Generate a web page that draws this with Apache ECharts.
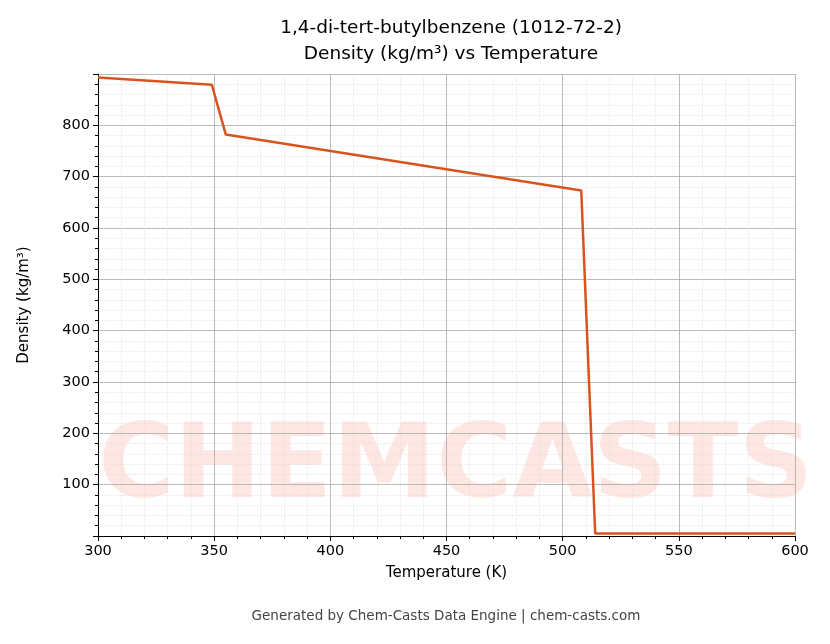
<!DOCTYPE html>
<html><head><meta charset="utf-8">
<script src="https://cdn.jsdelivr.net/npm/echarts@6/dist/echarts.min.js"></script>
<style>html,body{margin:0;padding:0;background:#fff}#c{width:830px;height:644px}</style>
</head><body><div id="c"></div>
<script>
const temps = [300, 349, 355, 508, 514, 600];
const density = [893, 879, 782, 673, 5, 5];
const xTicks = [300, 350, 400, 450, 500, 550, 600];
const yTicks = [100, 200, 300, 400, 500, 600, 700, 800];
const font = 'DejaVu Sans';
const chart = echarts.init(document.getElementById('c'));
chart.setOption({
  animation: false,
  textStyle: {fontFamily: font},
  title: {text: '1,4-di-tert-butylbenzene (1012-72-2)\nDensity (kg/m³) vs Temperature', left: 446, top: 10, textAlign: 'center',
    textStyle: {fontFamily: font, fontWeight: 'normal', fontSize: 18.5, lineHeight: 26, color: '#000'}},
  graphic: [
    {type: 'text', x: 98, y: 418, z: 0, style: {text: 'CHEMCASTS', fontSize: 104, fontWeight: 'bold', fill: 'rgba(250,120,100,0.18)', fontFamily: font}},
    {type: 'text', x: 446, y: 609, style: {text: 'Generated by Chem-Casts Data Engine | chem-casts.com', fontSize: 13.5, fill: '#444', fontFamily: font, align: 'center'}}
  ],
  grid: {left: 98, right: 35, top: 74, bottom: 108},
  xAxis: {type: 'value', min: 300, max: 600, interval: 50, name: 'Temperature (K)', nameLocation: 'middle', nameGap: 30,
    nameTextStyle: {fontSize: 15, color: '#000'},
    axisLine: {onZero: false, lineStyle: {color: '#000'}}, axisTick: {lineStyle: {color: '#000'}},
    axisLabel: {fontSize: 14.5, color: '#000'},
    minorTick: {show: true, splitNumber: 5, lineStyle: {color: '#000'}},
    splitLine: {lineStyle: {color: '#aaa', width: 0.8}},
    minorSplitLine: {show: true, lineStyle: {color: '#ddd', type: 'dashed', width: 0.5}}},
  yAxis: {type: 'value', min: 0, max: 900, interval: 100, name: 'Density (kg/m³)', nameLocation: 'middle', nameGap: 66,
    nameTextStyle: {fontSize: 15, color: '#000'},
    axisLine: {show: true, lineStyle: {color: '#000'}}, axisTick: {show: true, lineStyle: {color: '#000'}},
    axisLabel: {fontSize: 14.5, color: '#000', formatter: v => yTicks.includes(v) ? String(v) : ''},
    minorTick: {show: true, splitNumber: 5, lineStyle: {color: '#000'}},
    splitLine: {lineStyle: {color: '#aaa', width: 0.8}},
    minorSplitLine: {show: true, lineStyle: {color: '#ddd', type: 'dashed', width: 0.5}}},
  series: [{type: 'line', data: temps.map((t, i) => [t, density[i]]), showSymbol: false,
    lineStyle: {color: '#d9531e', width: 2.5}, itemStyle: {color: '#d9531e'}}]
});
</script></body></html>
